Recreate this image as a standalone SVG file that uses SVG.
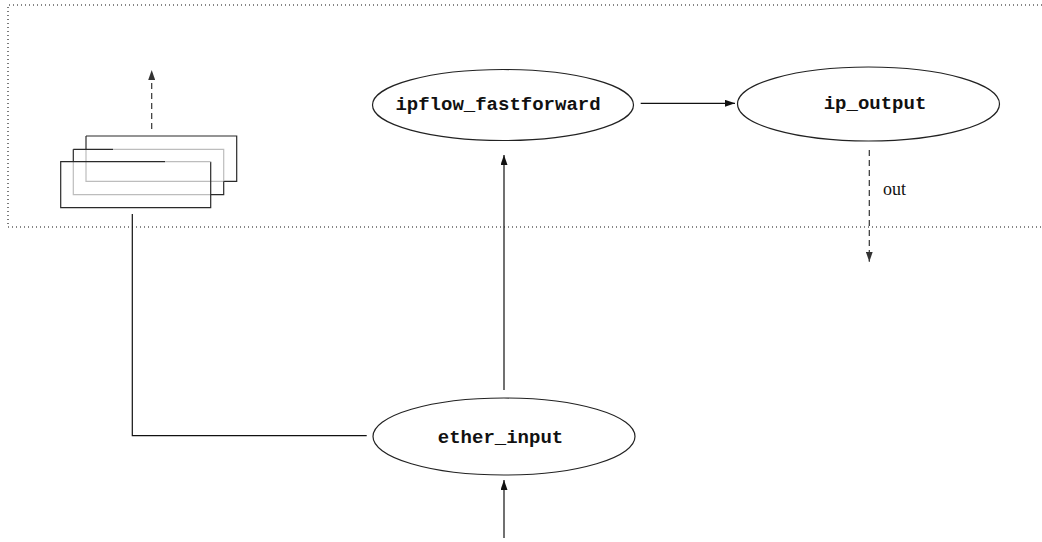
<svg xmlns="http://www.w3.org/2000/svg" width="1042" height="542" viewBox="0 0 1042 542">
  <style>
    .node { fill: #fff; stroke: #222; stroke-width: 1.2; }
    .label { font-family: "Liberation Mono", "DejaVu Sans Mono", monospace; font-weight: bold; font-size: 19px; fill: #111; text-anchor: middle; }
    .note { font-family: "Liberation Serif", "Times New Roman", serif; font-size: 18px; fill: #111; }
    .edge { fill: none; stroke: #111; stroke-width: 1.2; }
    .dash { fill: none; stroke: #333; stroke-width: 1.2; stroke-dasharray: 6 4; }
    .dark { fill: none; stroke: #2a2a2a; stroke-width: 1.2; }
    .light { fill: none; stroke: #bdbdbd; stroke-width: 1.2; }
    .frame { fill: none; stroke: #111; stroke-width: 1.1; stroke-dasharray: 1 3; }
  </style>
  <defs>
    <marker id="head" markerUnits="userSpaceOnUse" markerWidth="10" markerHeight="7" refX="10" refY="3.5" orient="auto">
      <path d="M0,0 L10,3.5 L0,7 z" fill="#111"/>
    </marker>
    <marker id="headGray" markerUnits="userSpaceOnUse" markerWidth="10" markerHeight="7" refX="10" refY="3.5" orient="auto">
      <path d="M0,0 L10,3.5 L0,7 z" fill="#333"/>
    </marker>
  </defs>

  <rect width="1042" height="542" fill="#fff"/>

  <!-- dotted boundary, open on the right -->
  <path class="frame" d="M1042,5 H8 V227 H1042"/>

  <!-- stack of three overlapping buffers -->
  <g id="buffers">
    <!-- back -->
    <path class="dark" d="M86,136 H236.7 V181.3 H223.7"/>
    <path class="dark" d="M86,136 V149.3"/>
    <path class="light" d="M86,149.3 V181.3 H223.7"/>
    <!-- middle -->
    <path class="dark" d="M73.3,149.3 H113"/>
    <path class="light" d="M113,149.3 H223.7 V181.3"/>
    <path class="dark" d="M223.7,181.3 V194.7 H210.7"/>
    <path class="dark" d="M73.3,149.3 V161.7"/>
    <path class="light" d="M73.3,161.7 V194.7 H210.7"/>
    <!-- front -->
    <path class="dark" d="M165,161.7 H60.7 V207.7 H210.7 V161.7"/>
    <path class="light" d="M165,161.7 H210.7"/>
  </g>

  <g id="ipflow_fastforward">
    <ellipse class="node" cx="503" cy="105" rx="130.5" ry="35.5"/>
    <text class="label" x="498" y="109.5">ipflow_fastforward</text>
  </g>

  <g id="ip_output">
    <ellipse class="node" cx="868.5" cy="104" rx="131" ry="37"/>
    <text class="label" x="875" y="109">ip_output</text>
  </g>

  <g id="ether_input">
    <ellipse class="node" cx="504" cy="436.5" rx="131" ry="38.5"/>
    <text class="label" x="500.5" y="442.5">ether_input</text>
  </g>

  <g id="connectors">
    <path class="edge" d="M640.7,103.3 H735" marker-end="url(#head)"/>
    <path class="edge" d="M504,390 V155" marker-end="url(#head)"/>
    <path class="edge" d="M504,538 V480" marker-end="url(#head)"/>
    <path class="edge" d="M366.7,435.7 H132.3 V214"/>
    <path class="dash" d="M869.3,150 V261.7" marker-end="url(#headGray)"/>
    <path class="dash" d="M151.7,129 V70" marker-end="url(#headGray)"/>
    <text class="note" x="883" y="195">out</text>
  </g>
</svg>
